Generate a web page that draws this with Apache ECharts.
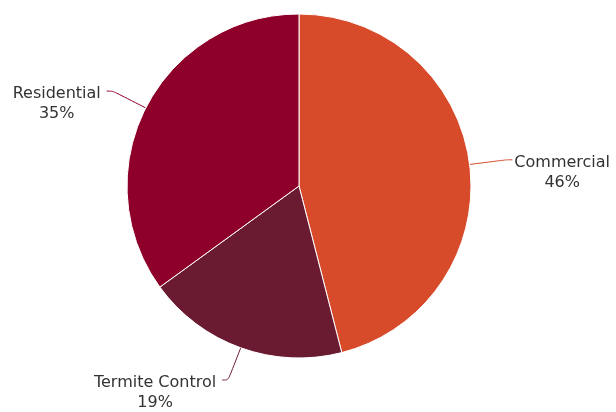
<!DOCTYPE html>
<html><head><meta charset="utf-8">
<script src="https://cdn.jsdelivr.net/npm/echarts@6/dist/echarts.min.js"></script>
<style>html,body{margin:0;padding:0;background:#fff;}#c{width:616px;height:412px;}</style>
</head><body><div id="c"></div>
<script>
const categories = ["Commercial", "Termite Control", "Residential"];
const values = [46, 19, 35];
const colors = ["#D84B2A", "#6A1A31", "#8E0029"];

const chart = echarts.init(document.getElementById('c'));
chart.setOption({
  animation: false,
  series: [{
    type: 'pie',
    center: [299, 186],
    radius: 172,
    startAngle: 90,
    clockwise: true,
    data: categories.map((c, i) => ({name: c, value: values[i], itemStyle: {color: colors[i]}})),
    itemStyle: {borderColor: '#fff', borderWidth: 1},
    label: {
      formatter: '{t|{b}}\n{t|{d}%}',
      overflow: 'none',
      distanceToLabelLine: 6,
      padding: [26, 0, 0, 0],
      rich: {
        t: {fontFamily: 'DejaVu Sans', fontSize: 16, lineHeight: 20, color: '#333', align: 'center', overflow: 'none'}
      }
    },
    labelLine: {show: true, smooth: true, length: 37, length2: 6, lineStyle: {width: 1}}
  }]
});
</script></body></html>
